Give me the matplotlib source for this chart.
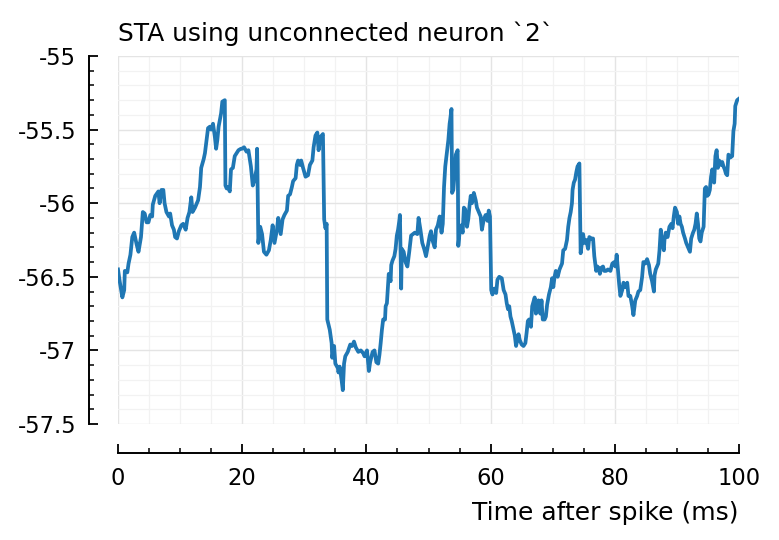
import numpy as np
import matplotlib
matplotlib.use("Agg")
import matplotlib.pyplot as plt
from matplotlib.ticker import MultipleLocator

# STA trace
t_ms = [
    0.0, 0.27, 0.7, 1.0, 1.1, 1.5, 1.7, 2.0, 2.3, 2.6, 3.0, 3.3, 3.7, 4.0, 4.3, 4.6, 4.9,
    5.2, 5.5, 5.6, 6.0, 6.5, 6.7, 7.0, 7.3, 7.5, 7.8, 8.2, 8.4, 8.7, 9.0, 9.2, 9.5, 9.8,
    10.2, 10.5, 10.9, 11.2, 11.5, 11.8, 12.0, 12.4, 12.6, 12.9, 13.2, 13.4, 13.8, 14.0,
    14.2, 14.5, 14.8, 15.0, 15.3, 15.6, 15.8, 16.0, 16.2, 16.6, 16.8, 17.2, 17.3, 17.5,
    17.7, 18.0, 18.2, 18.5, 18.8, 19.4, 19.8,
    20.0, 20.3, 20.7, 21.0, 21.4, 21.7, 22.0, 22.3, 22.4, 22.6, 22.9, 23.2, 23.5, 23.9,
    24.3, 24.6, 24.9, 25.2, 25.6, 25.8, 26.2, 26.5, 26.8, 27.2, 27.4, 27.7, 28.0, 28.2,
    28.6, 28.8, 29.0, 29.3, 29.5, 29.8, 30.2, 30.6, 30.9, 31.3, 31.5, 31.8, 32.1, 32.3,
    32.6, 33.0, 33.2, 33.4, 33.6, 33.7, 34.1, 34.4, 34.5, 34.8, 35.0, 35.4, 35.5, 35.7,
    36.0, 36.2, 36.4, 36.6, 37.0, 37.4, 37.7, 38.0, 38.3, 38.7, 39.1, 39.5, 39.7, 40.1,
    40.4, 40.6, 41.0, 41.3, 41.6, 41.9, 42.1, 42.3, 42.5, 42.7, 43.0, 43.1, 43.3, 43.5,
    43.6, 43.9, 44.0, 44.2, 44.5, 44.7, 44.9, 45.1, 45.3, 45.4, 45.6, 45.7, 46.0, 46.3,
    46.6, 46.9, 47.2, 47.5, 47.8, 48.2, 48.4, 48.7, 49.0, 49.3, 49.6, 49.9, 50.2, 50.4,
    50.7, 51.0, 51.2, 51.5, 51.8, 52.1, 52.3, 52.5, 52.7, 52.9, 53.2, 53.4, 53.5, 53.7,
    53.8, 54.0, 54.2, 54.4, 54.7, 54.8, 55.0, 55.3, 55.5, 55.7, 55.9, 56.2, 56.4, 56.6,
    56.8, 57.0, 57.3, 57.6, 57.8, 58.1, 58.4, 58.6, 58.9, 59.2, 59.5, 59.7, 59.9,
    60.1, 60.3, 60.6, 60.9, 61.1, 61.4, 61.8, 62.1, 62.4, 62.6, 62.8, 63.0, 63.2, 63.4,
    63.7, 63.9, 64.1, 64.3, 64.5, 64.7, 65.0, 65.3, 65.6, 65.8, 66.0, 66.2, 66.5, 66.7,
    66.9, 67.1, 67.3, 67.5, 67.7, 68.0, 68.2, 68.4, 68.7, 68.9, 69.1, 69.4, 69.7, 69.9,
    70.1, 70.3, 70.5, 70.8, 71.1, 71.3, 71.5, 71.7, 72.0, 72.3, 72.5, 72.7, 72.9, 73.1,
    73.2, 73.4, 73.6, 73.8, 74.0, 74.3, 74.5, 74.7, 74.9, 75.1, 75.4, 75.7, 75.9, 76.2,
    76.5, 76.7, 77.0, 77.2, 77.4, 77.6, 77.8, 78.1, 78.3, 78.6, 78.9, 79.3, 79.6, 79.9,
    80.1, 80.3, 80.5, 80.7, 80.9, 81.2, 81.4, 81.7, 82.0, 82.2, 82.5, 82.8, 83.0, 83.3,
    83.6, 83.8, 84.1, 84.4, 84.6, 84.9, 85.2, 85.5, 85.7, 86.0, 86.3, 86.4, 86.6, 87.0,
    87.2, 87.4, 87.6, 87.9, 88.0, 88.2, 88.5, 88.8, 89.1, 89.3, 89.5, 89.7, 90.0, 90.2,
    90.4, 90.6, 90.8, 91.0, 91.3, 91.5, 91.8, 92.1, 92.3, 92.6, 92.8, 93.0, 93.2, 93.4,
    93.6, 93.8, 94.0, 94.3, 94.5, 94.7, 94.9, 95.1, 95.3, 95.5, 95.7, 96.0, 96.2, 96.4,
    96.6, 96.8, 97.1, 97.3, 97.5, 97.7, 97.9, 98.1, 98.3, 98.6, 98.9, 99.1, 99.3, 99.4,
    99.7, 100.0,
]
sta_mv = [
    -56.45, -56.53, -56.64, -56.59, -56.46, -56.47, -56.41, -56.35, -56.23, -56.20, -56.28,
    -56.33, -56.23, -56.06, -56.07, -56.13, -56.13, -56.08, -56.09, -56.01, -55.95, -55.92,
    -56.00, -55.91, -55.91, -56.00, -56.06, -56.09, -56.07, -56.15, -56.18, -56.23, -56.24,
    -56.19, -56.15, -56.14, -56.18, -56.10, -56.06, -55.96, -56.06, -56.03, -56.01, -55.98,
    -55.89, -55.76, -55.70, -55.66, -55.59, -55.49, -55.48, -55.50, -55.46, -55.55, -55.63,
    -55.57, -55.48, -55.39, -55.31, -55.30, -55.88, -55.90, -55.89, -55.92, -55.77, -55.76,
    -55.68, -55.64, -55.63,
    -55.63, -55.62, -55.65, -55.64, -55.75, -55.88, -55.84, -55.77, -55.63, -56.27, -56.16,
    -56.21, -56.33, -56.35, -56.32, -56.25, -56.15, -56.27, -56.18, -56.10, -56.21, -56.11,
    -56.08, -56.05, -55.95, -55.94, -55.89, -55.85, -55.83, -55.74, -55.71, -55.74, -55.71,
    -55.76, -55.82, -55.81, -55.74, -55.71, -55.62, -55.54, -55.52, -55.64, -55.55, -55.53,
    -56.11, -56.17, -56.14, -56.79, -56.86, -56.95, -57.05, -56.97, -57.09, -57.12, -57.15,
    -57.11, -57.20, -57.27, -57.09, -57.04, -57.01, -56.96, -56.97, -56.94, -56.98, -57.01,
    -57.00, -57.02, -57.04, -57.00,
    -57.14, -57.08, -57.01, -57.00, -57.08, -57.09, -57.03, -56.95, -56.86, -56.79, -56.79,
    -56.70, -56.68, -56.55, -56.48, -56.53, -56.42, -56.39, -56.36, -56.31, -56.22, -56.18,
    -56.12, -56.08, -56.58, -56.31, -56.33, -56.40, -56.43, -56.33, -56.22, -56.21, -56.20,
    -56.21, -56.10, -56.18, -56.27, -56.31, -56.36, -56.29, -56.22, -56.19, -56.26, -56.30,
    -56.18, -56.15, -56.09, -56.20, -56.14, -55.89, -55.75, -55.68, -55.57, -55.46, -55.43,
    -55.36, -55.93, -55.91, -55.80, -55.67, -55.64, -56.29, -56.20, -56.15, -56.20, -56.03,
    -56.04, -56.16, -56.11, -56.02, -55.95, -56.00, -55.93, -55.98, -56.03, -56.06, -56.09,
    -56.18, -56.11, -56.08, -56.12, -56.05, -56.09,
    -56.59, -56.62, -56.58, -56.61, -56.52, -56.50, -56.51, -56.59, -56.62, -56.68, -56.72,
    -56.70, -56.77, -56.80, -56.86, -56.90, -56.97, -56.93, -56.89, -56.93, -56.96, -56.97,
    -56.95, -56.88, -56.80, -56.79, -56.84, -56.70, -56.67, -56.64, -56.75, -56.70, -56.66,
    -56.75, -56.66, -56.79, -56.79, -56.77, -56.69, -56.62, -56.57, -56.51, -56.57, -56.50,
    -56.46, -56.50, -56.45, -56.43, -56.41, -56.32, -56.31, -56.25, -56.16, -56.10, -56.06,
    -56.00, -55.91, -55.86, -55.84, -55.79, -55.75, -55.73, -56.34, -56.27, -56.21, -56.27,
    -56.25, -56.31, -56.23, -56.24, -56.24, -56.36, -56.46, -56.43, -56.44, -56.48, -56.44,
    -56.43, -56.46, -56.46, -56.45, -56.46, -56.41, -56.40,
    -56.43, -56.35, -56.45, -56.55, -56.63, -56.59, -56.54, -56.57, -56.54, -56.63, -56.63,
    -56.70, -56.76, -56.66, -56.63, -56.60, -56.59, -56.50, -56.40, -56.41, -56.38, -56.42,
    -56.48, -56.53, -56.60, -56.49, -56.45, -56.41, -56.32, -56.18, -56.26, -56.32, -56.25,
    -56.20, -56.23, -56.16, -56.14, -56.17, -56.09, -56.03, -56.06, -56.14, -56.09, -56.14,
    -56.16, -56.20, -56.24, -56.27, -56.30, -56.33, -56.24, -56.20, -56.18, -56.14, -56.07,
    -56.14, -56.24, -56.26, -56.20, -56.16, -55.90, -55.89, -55.95, -55.94, -55.91, -55.82,
    -55.77, -55.86, -55.68, -55.64, -55.76, -55.71, -55.74, -55.72, -55.75, -55.77, -55.80,
    -55.81, -55.67, -55.69, -55.68, -55.51, -55.46, -55.34, -55.30, -55.29,
]

x_ticks = [0, 20, 40, 60, 80, 100]
y_ticks = [-55, -55.5, -56, -56.5, -57, -57.5]
y_ticklabels = ["-55", "-55.5", "-56", "-56.5", "-57", "-57.5"]

fig = plt.figure(figsize=(7.79, 5.4), dpi=100)
ax = fig.add_axes([118 / 779, 1 - 424 / 540, 621 / 779, 368 / 540])

ax.plot(t_ms, sta_mv, color="#1f77b4", linewidth=2.7, solid_joinstyle="round")

ax.set_xlim(0, 100)
ax.set_ylim(-57.5, -55)
ax.set_xticks(x_ticks)
ax.set_xticklabels([str(v) for v in x_ticks])
ax.set_yticks(y_ticks)
ax.set_yticklabels(y_ticklabels)
ax.xaxis.set_minor_locator(MultipleLocator(5))
ax.yaxis.set_minor_locator(MultipleLocator(0.1))

ax.grid(which="major", color="#e4e4e4", linewidth=1.0)
ax.grid(which="minor", color="#f2f2f2", linewidth=0.9)
ax.set_axisbelow(True)

for s in ["top", "right"]:
    ax.spines[s].set_visible(False)
ax.spines["left"].set_position(("outward", 21))
ax.spines["bottom"].set_position(("outward", 21))
ax.spines["left"].set_linewidth(1.4)
ax.spines["bottom"].set_linewidth(1.4)

ax.tick_params(which="major", direction="in", length=6.5, width=1.3, labelsize=16.3, pad=9)
ax.tick_params(which="minor", direction="in", length=3.5, width=1.1)
ax.tick_params(axis="x", which="major", pad=10)

ax.set_title("STA using unconnected neuron `2`", loc="left", fontsize=17.9, pad=11)
ax.set_xlabel("Time after spike (ms)", loc="right", fontsize=18, labelpad=8)

fig.savefig("out.png", dpi=100)
